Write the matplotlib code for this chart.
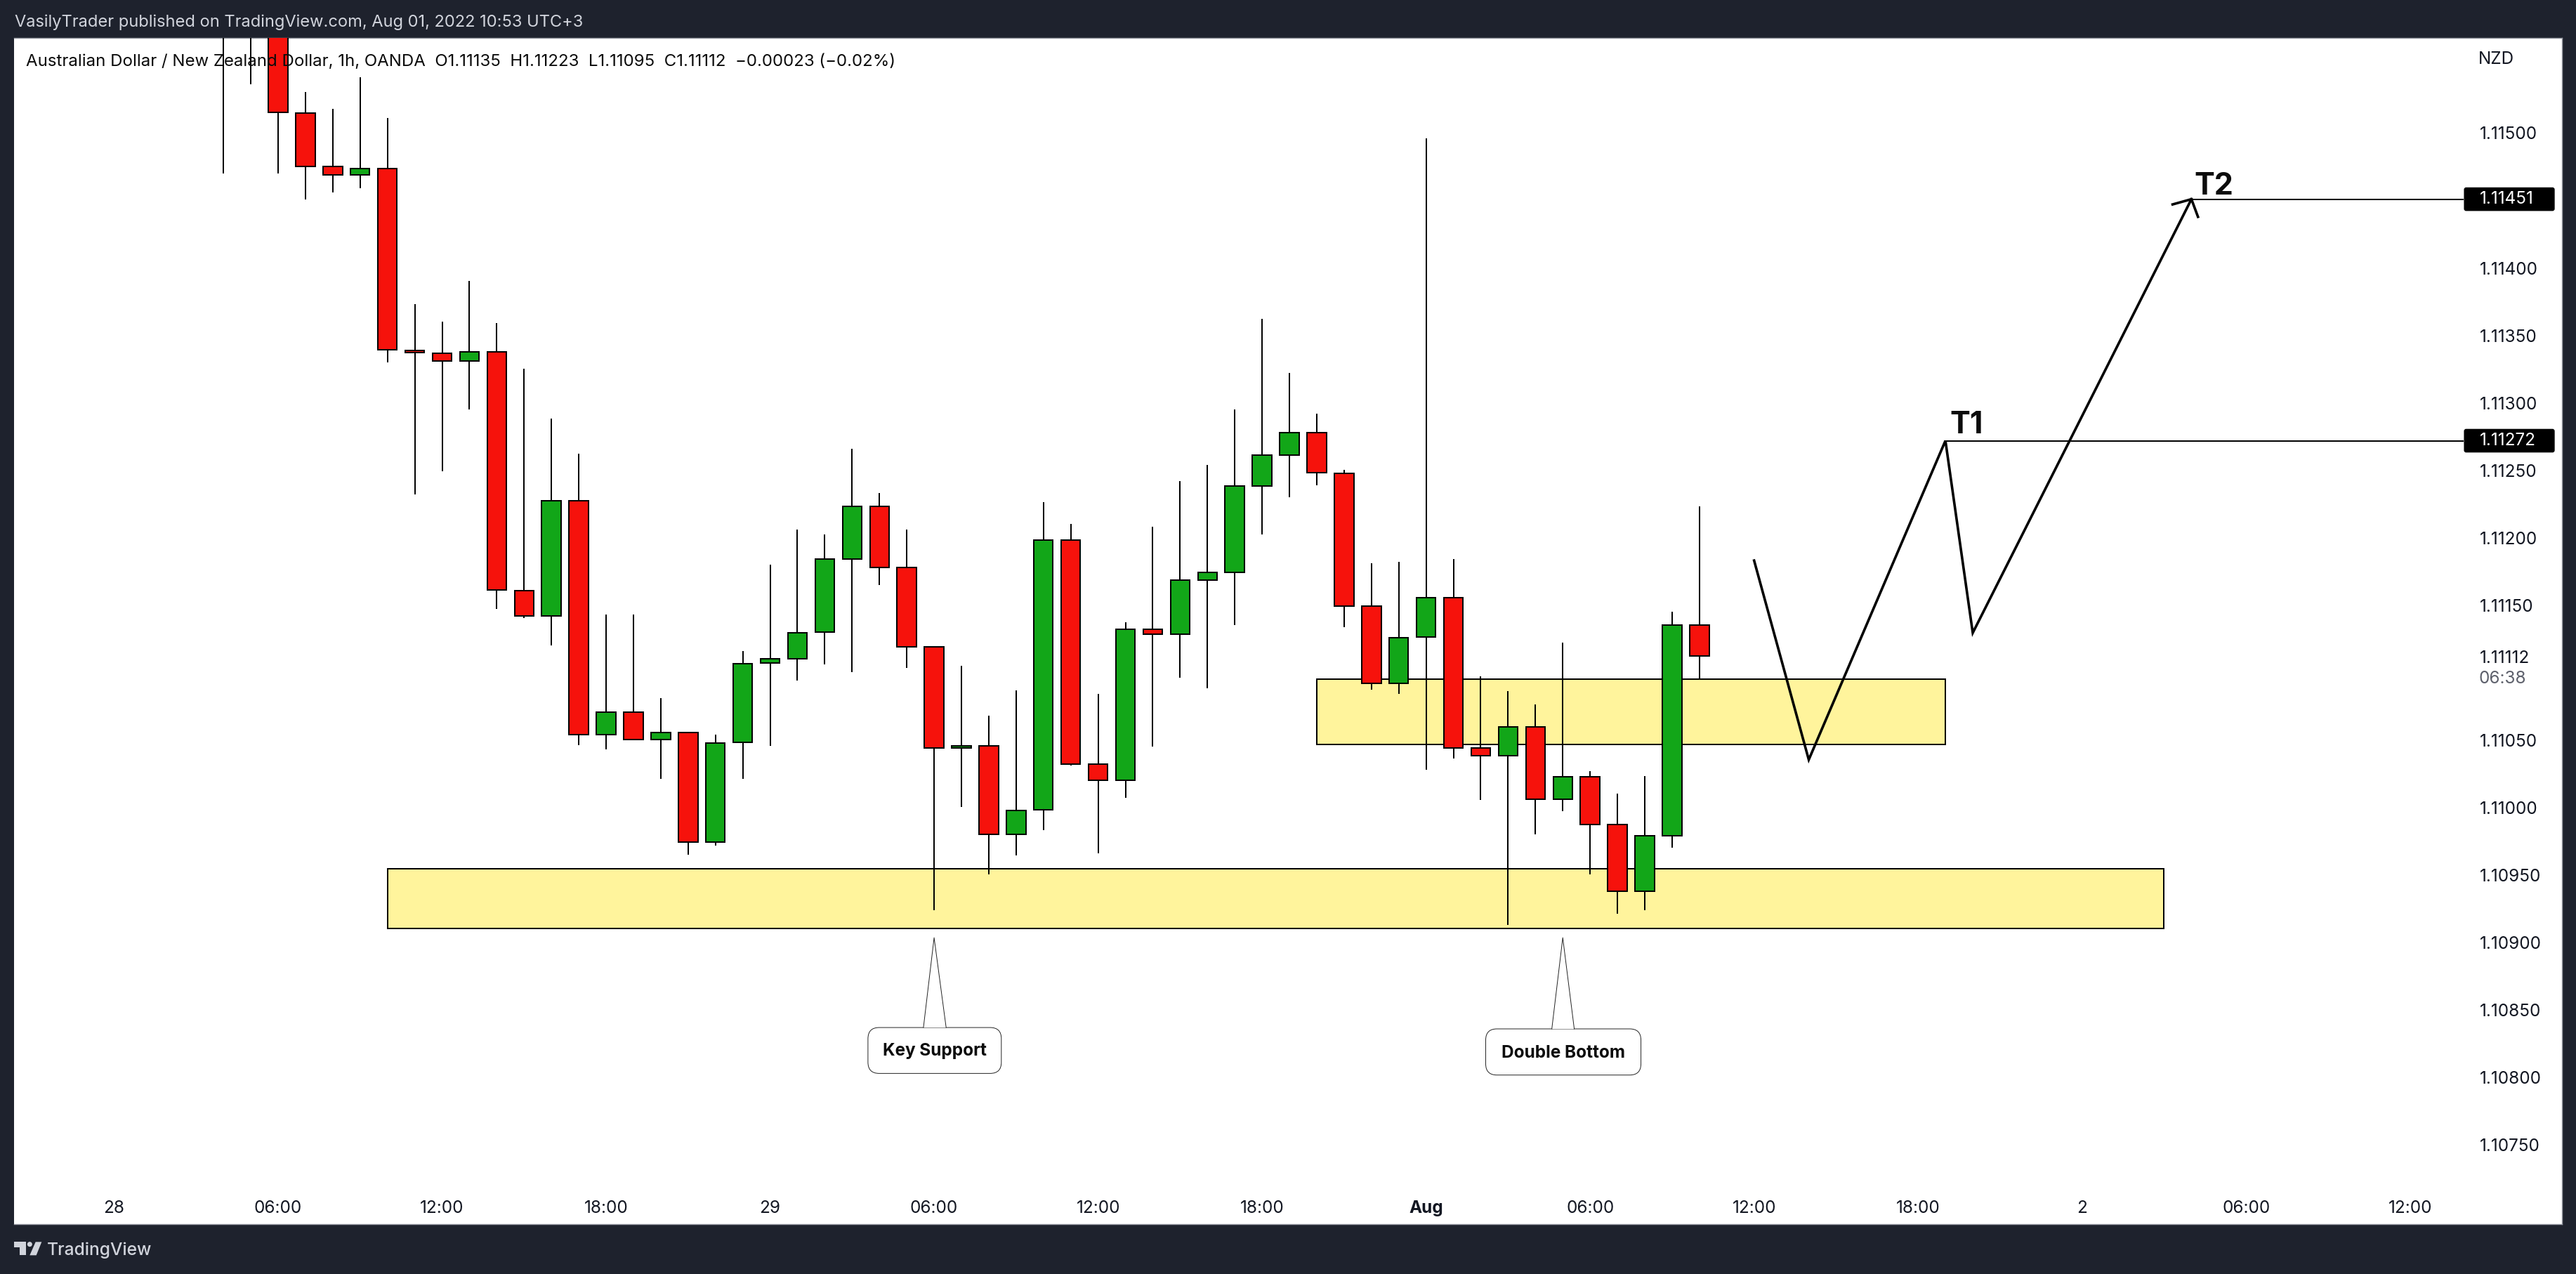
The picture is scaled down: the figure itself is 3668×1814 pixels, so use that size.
import numpy as np
import matplotlib
matplotlib.use("Agg")
import matplotlib.pyplot as plt
from matplotlib.patches import Rectangle, FancyBboxPatch, Polygon, Ellipse

plt.rcParams['font.family'] = ['Inter', 'DejaVu Sans']

# hourly candles, hour 0 = Jul 28 00:00 (the weekend is skipped)
hours = list(range(4, 59))
opens = [1.116100, 1.116000, 1.115900, 1.115149, 1.114750, 1.114689, 1.114738, 1.113390, 1.113369, 1.113309, 1.113381,
         1.111611, 1.111420, 1.112277, 1.110542, 1.110709, 1.110505, 1.110558, 1.109745, 1.110484, 1.111071, 1.111104,
         1.111301, 1.111843, 1.112231, 1.111780, 1.111192, 1.110441, 1.110460, 1.109804, 1.109985, 1.111981, 1.110321,
         1.110202, 1.111320, 1.111288, 1.111689, 1.111745, 1.112385, 1.112613, 1.112780, 1.112480, 1.111492, 1.110922,
         1.111265, 1.111559, 1.110441, 1.110388, 1.110600, 1.110061, 1.110231, 1.109878, 1.109382, 1.109791, 1.111352]
closes = [1.115950, 1.115900, 1.115154, 1.114752, 1.114689, 1.114738, 1.113393, 1.113372, 1.113309, 1.113381, 1.111613,
          1.111420, 1.112277, 1.110542, 1.110709, 1.110505, 1.110558, 1.109745, 1.110481, 1.111069, 1.111102, 1.111299,
          1.111841, 1.112231, 1.111780, 1.111192, 1.110441, 1.110460, 1.109804, 1.109982, 1.111981, 1.110321, 1.110202,
          1.111320, 1.111288, 1.111689, 1.111742, 1.112383, 1.112611, 1.112780, 1.112483, 1.111495, 1.110922, 1.111261,
          1.111559, 1.110441, 1.110388, 1.110600, 1.110061, 1.110231, 1.109878, 1.109382, 1.109791, 1.111352, 1.111124]
highs = [1.116400, 1.116300, 1.116100, 1.115305, 1.115180, 1.115414, 1.115112, 1.113732, 1.113602, 1.113904, 1.113593,
         1.113253, 1.112884, 1.112624, 1.111432, 1.111432, 1.110811, 1.110558, 1.110542, 1.111162, 1.111801, 1.112061,
         1.112024, 1.112661, 1.112333, 1.112061, 1.111192, 1.111052, 1.110683, 1.110868, 1.112265, 1.112104, 1.110845,
         1.111373, 1.112082, 1.112420, 1.112539, 1.112951, 1.113623, 1.113222, 1.112921, 1.112504, 1.111812, 1.111822,
         1.114960, 1.111843, 1.110972, 1.110863, 1.110765, 1.111225, 1.110271, 1.110104, 1.110234, 1.111453, 1.112234]
lows = [1.114703, 1.115363, 1.114703, 1.114506, 1.114561, 1.114591, 1.113302, 1.112322, 1.112496, 1.112954, 1.111473,
        1.111404, 1.111202, 1.110463, 1.110435, 1.110505, 1.110216, 1.109654, 1.109717, 1.110216, 1.110456, 1.110941,
        1.111062, 1.111004, 1.111652, 1.111035, 1.109238, 1.110008, 1.109504, 1.109644, 1.109836, 1.110314, 1.109663,
        1.110075, 1.110454, 1.110964, 1.110885, 1.111355, 1.112024, 1.112302, 1.112388, 1.111336, 1.110877, 1.110845,
        1.110279, 1.110367, 1.110056, 1.109132, 1.109804, 1.109974, 1.109504, 1.109217, 1.109238, 1.109706, 1.110953]

# axis labels
price_ticks = [1.11500, 1.11400, 1.11350, 1.11300, 1.11250, 1.11200, 1.11150, 1.11112,
               1.11050, 1.11000, 1.10950, 1.10900, 1.10850, 1.10800, 1.10750]
time_ticks = [0, 6, 12, 18, 24, 30, 36, 42, 48, 54, 60, 66, 72, 78, 84]
time_labels = ['28', '06:00', '12:00', '18:00', '29', '06:00', '12:00', '18:00',
               'Aug', '06:00', '12:00', '18:00', '2', '06:00', '12:00']

# drawings on the chart: yellow zones, projected path, targets
zone_hours = [(10, 75), (44, 67)]
zone_prices = [(1.109105, 1.109549), (1.110468, 1.110951)]
path_hours = [60, 62, 67, 68, 76]
path_prices = [1.111832, 1.110356, 1.11272, 1.111296, 1.11451]
head_hours = [75.31, 76, 76.24]
head_prices = [1.114471, 1.11451, 1.114379]
target_names = ['T1', 'T2']
target_prices = [1.11272, 1.11451]
target_start = [67, 76]
target_text_x = [67.76, 76.81]
target_text_y = [1.112833, 1.114603]

DARK = '#1e222d'
LIGHT = '#d1d4dc'
RED = '#f6120c'
GREEN = '#12a618'
YELLOW = '#fff49c'
W, H = 3668, 1814

fig = plt.figure(figsize=(W / 100, H / 100), dpi=100, facecolor=DARK)
ax = fig.add_axes([20 / W, (H - 1743) / H, 3628 / W, 1689 / H])
ax.set_xlim(-3.661, 89.556)
ax.set_ylim(1.106914, 1.115705)
ax.set_facecolor('white')
ax.set_axisbelow(False)
for s in ax.spines.values():
    s.set_color('#9598a1')
    s.set_linewidth(1)
ax.spines['left'].set_visible(False)

# zones
for (x0, x1), (y0, y1) in zip(zone_hours, zone_prices):
    ax.add_patch(Rectangle((x0, y0), x1 - x0, y1 - y0, facecolor=YELLOW, edgecolor='black', linewidth=1.44, zorder=2))

# candles
o = np.array(opens)
c = np.array(closes)
colors = [RED if b < a else GREEN for a, b in zip(opens, closes)]
wicks = ax.vlines(hours, lows, highs, color='black', linewidth=1.44, zorder=3)
wicks.set_snap(True)
ax.bar(hours, np.abs(c - o), bottom=np.minimum(o, c), width=0.705, color=colors,
       edgecolor='black', linewidth=1.44, zorder=4)

# projected path with arrow head
ax.plot(path_hours, path_prices, color='black', linewidth=2.6, solid_joinstyle='miter', zorder=5)
ax.plot(head_hours, head_prices, color='black', linewidth=2.6, solid_joinstyle='miter', zorder=5)

# target lines and price tags
label_x = 86.55
for name, p, x0, tx, ty in zip(target_names, target_prices, target_start, target_text_x, target_text_y):
    line = ax.hlines(p, x0, 85.97, color='black', linewidth=1.44, zorder=5)
    line.set_snap(True)
    ax.add_patch(FancyBboxPatch((85.97, p - 0.0000875), 3.32, 0.000175, boxstyle='round,pad=0,rounding_size=0.08',
                                mutation_aspect=2.03e-4, facecolor='black', edgecolor='none', zorder=6))
    ax.text(label_x, p, f'{p:.5f}', color='white', fontsize=17.5, va='center', ha='left', zorder=7)
    ax.text(tx, ty, name, color='#0c0c0c', fontsize=31, fontweight='bold', ha='center', va='center', zorder=7)


def callout(text, left, right, top, bottom, tip, tip_price, base0, base1, text_price):
    ax.add_patch(FancyBboxPatch((left, bottom), right - left, top - bottom, boxstyle='round,pad=0,rounding_size=0.41',
                                mutation_aspect=2.03e-4, facecolor='white', edgecolor='#222222', linewidth=0.7, zorder=6))
    ax.add_patch(Polygon([(base0, top), (tip, tip_price), (base1, top)], closed=False, facecolor='white',
                         edgecolor='none', zorder=6.5))
    ax.plot([base0, tip, base1], [top, tip_price, top], color='#222222', linewidth=0.7, zorder=7)
    ax.text((left + right) / 2, text_price, text, fontsize=17.5, fontweight='bold', color='#0c0c0c',
            ha='center', va='center', zorder=7)


callout('Key Support', 27.58, 32.46, 1.108371, 1.108031, 30, 1.109037, 29.61, 30.44, 1.108195)
callout('Double Bottom', 50.18, 55.86, 1.108361, 1.108019, 53, 1.109037, 52.6, 53.42, 1.10818)

# axes, labels sit inside the panel like on the TradingView chart
ax.yaxis.tick_right()
ax.set_yticks(price_ticks, [f'{p:.5f}' for p in price_ticks])
ax.tick_params(axis='y', length=0, pad=-84.2, labelsize=17.5, labelcolor='#131722')
ax.set_xticks(time_ticks, time_labels)
ax.tick_params(axis='x', length=0, pad=-24.5, labelsize=17.5, labelcolor='#131722')
ax.get_xticklabels()[8].set_fontweight('bold')
ax.text(86.5, 1.115546, 'NZD', fontsize=17.5, color='#131722', va='center', ha='left')
ax.text(86.5, 1.110954, '06:38', fontsize=17.5, color='#5d606b', va='center', ha='left')

# header, legend, footer
fig.text(20.7 / W, 1 - 32 / H, 'VasilyTrader published on TradingView.com, Aug 01, 2022 10:53 UTC+3',
         color=LIGHT, fontsize=17, va='center', ha='left')
fig.text(37 / W, 1 - 87.5 / H,
         'Australian Dollar / New Zealand Dollar, 1h, OANDA  O1.11135  H1.11223  L1.11095  C1.11112  \u22120.00023 (\u22120.02%)',
         color='#0c0c0c', fontsize=17.3, va='center', ha='left', zorder=10)
fig.text(67.3 / W, 1 - 1780 / H, 'TradingView', color=LIGHT, fontsize=17.7, fontweight='medium', va='center', ha='left')


def logo_xy(pts):
    return [((10 + x / 3) / W, 1 - (1750 + y / 3) / H) for x, y in pts]


fig.add_artist(Polygon(logo_xy([(30, 55), (80, 55), (80, 112), (55, 112), (55, 77), (30, 77)]),
                       closed=True, facecolor=LIGHT, edgecolor='none', transform=fig.transFigure))
fig.add_artist(Polygon(logo_xy([(122, 55), (148, 55), (125, 112), (97, 112)]),
                       closed=True, facecolor=LIGHT, edgecolor='none', transform=fig.transFigure))
dot = logo_xy([(97, 65)])[0]
fig.add_artist(Ellipse(dot, 7 / W, 7 / H, facecolor=LIGHT, edgecolor='none', transform=fig.transFigure))

fig.savefig('out.png', dpi=100, facecolor=DARK)
